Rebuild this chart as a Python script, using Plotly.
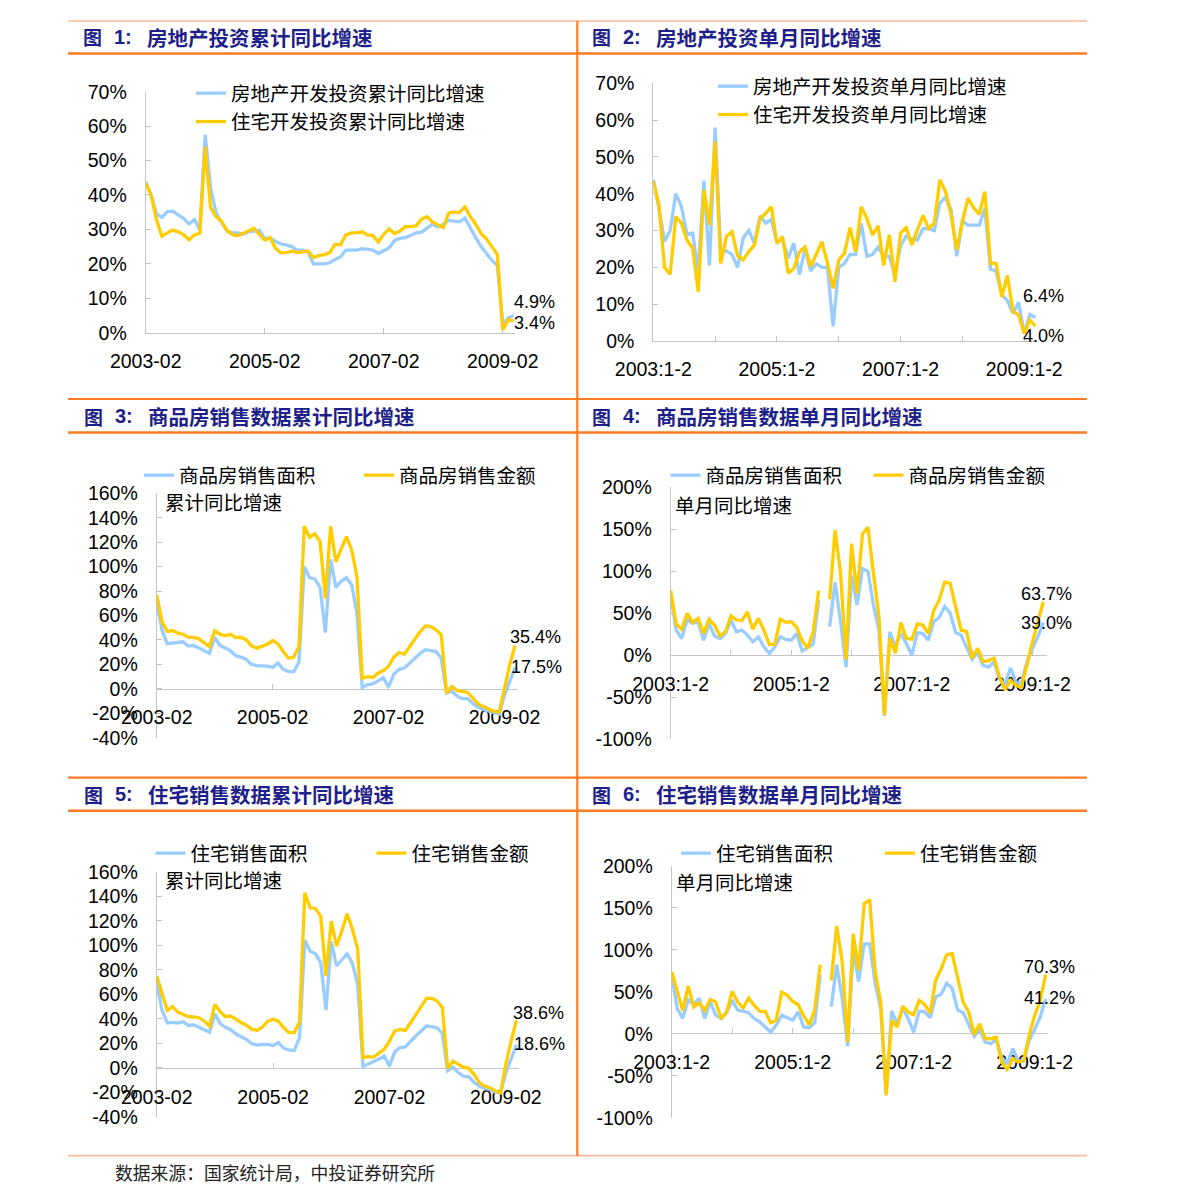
import plotly.graph_objects as go

W, H = 1191, 1202
CJK = "Noto Sans CJK SC"
NUM = "Liberation Sans, Arial, sans-serif"
BLUE = "#99CCFF"
YELLOW = "#FFCC00"
NAVY = "#1F1F8A"
ORANGE = "#FF7A22"
LIGHT_ORANGE = "#FFB896"
AXIS = "#C4C4C4"

# ---------------- categories & tick labels ----------------
years = range(2003, 2010)
cum_periods = [f"{y}-{m:02d}" for y in years for m in range(2, 13)][:69]
mon_periods = [f"{y}:1-2" if m == 2 else f"{y}:{m}" for y in years for m in range(2, 13)][:69]
cum_tickvals = ["2003-02", "2005-02", "2007-02", "2009-02"]
cum_ticktext = ["2003-02", "2005-02", "2007-02", "2009-02"]
mon_tickvals = ["2003:1-2", "2004:1-2", "2005:1-2", "2006:1-2", "2007:1-2", "2008:1-2", "2009:1-2"]
mon_ticktext = ["2003:1-2", "", "2005:1-2", "", "2007:1-2", "", "2009:1-2"]
y_ticks_invest = [0, 10, 20, 30, 40, 50, 60, 70]
y_ticks_cum = [-40, -20, 0, 20, 40, 60, 80, 100, 120, 140, 160]
y_ticks_mon = [-100, -50, 0, 50, 100, 150, 200]

# ---------------- 图1 房地产投资累计同比增速 ----------------
c1_invest = [43.8, 40, 34.5, 33.5, 35.2, 35.3, 34.2, 33.2, 31.6, 32.8, 30,
             57.5, 42, 35, 32, 29.5, 29, 29, 28.6, 29.3, 29.5, 29.8,
             27.3, 27.5, 26.5, 25.8, 25.5, 25, 24, 24, 23.5, 20, 20,
             20, 20.3, 21.3, 22, 24, 24, 24, 24.4, 24.1, 24, 23,
             23.7, 24.6, 26.8, 27.4, 27.6, 28.4, 29, 29.2, 30.5, 31.5, 30.7,
             31.5, 32.6, 32.4, 32.2, 33.3, 30.3, 27.6, 25, 23, 21, 19.5,
             2.5, 4.3, 4.9]
c1_resid = [43.4, 40, 32.7, 28, 29, 29.8, 29.3, 28.5, 27, 28.4, 28.9,
            54, 36.3, 33.7, 32.4, 29.8, 28.5, 28.2, 28.8, 29.5, 30.3, 28.6,
            26.9, 27.6, 24.5, 23.2, 23.3, 23.7, 23.3, 23.5, 23.7, 21.8, 22.4,
            22.7, 23.2, 25.7, 25.5, 28.4, 29, 29, 29.3, 28.4, 28.2, 26.4,
            28.6, 30.1, 28.8, 29.5, 30.8, 30.8, 31.1, 33, 33.7, 32.2, 31.3,
            30.5, 34.7, 35.1, 34.9, 36.6, 33.7, 31.5, 28.8, 27.2, 25, 22.7,
            0.8, 3.8, 3.4]

# ---------------- 图2 房地产投资单月同比增速 ----------------
c2_invest = [43.8, 36, 27, 30, 40, 36.5, 29, 29.3, 19, 43.5, 20.5,
             58, 24, 24.5, 23.5, 20, 28, 30, 26.5, 34, 32, 33,
             27, 27.5, 22.5, 26.5, 18, 25, 19, 21, 20, 20, 4,
             20, 21, 23.5, 23.5, 32, 23, 23.5, 25.5, 23, 23, 18,
             26, 28.5, 27.5, 27.5, 30.5, 30.5, 30, 37.5, 39, 35.5, 23,
             32.5, 31.5, 31.5, 31.5, 36, 19.5, 19, 12.5, 11, 7.5, 10.5,
             2, 7.2, 6.4]
c2_resid = [43.5, 37, 20, 18.1, 33.8, 32, 27.4, 25.2, 13.4, 41, 31.5,
            54.2, 21.1, 28.4, 29.7, 23.2, 22, 24.3, 26.1, 33.3, 34.7, 36.5,
            26.5, 28.4, 18.4, 19.7, 24.1, 25.6, 20.2, 23.4, 27, 21.1, 14.3,
            22, 23.8, 30.8, 24.3, 36.5, 33.3, 28.8, 31.3, 20.5, 28.8, 16.1,
            29.3, 30.8, 26.1, 30.2, 34.1, 30.6, 32, 43.8, 40.6, 34.2, 24.7,
            32.4, 38.8, 36.2, 34.4, 40.6, 21.1, 21.1, 12, 17.8, 8, 7.1,
            2.1, 5.7, 4.0]

# ---------------- 图3 商品房销售数据累计同比增速 ----------------
c3_area = [72, 48, 37, 37.5, 37.5, 38.5, 35, 35.5, 33.5, 31.5, 29,
           42, 35.5, 33.5, 31, 27, 26, 24, 20, 19, 19, 18.5,
           17.5, 21, 16, 14, 14, 22, 100, 91, 90, 83, 46,
           106, 83, 88, 91, 85, 62, 1, 3.5, 4, 6.5, 9,
           1.5, 12, 16, 17, 21, 25, 29, 32, 31.5, 30.5, 25,
           -3.5, -2, -6, -8, -8, -12, -15, -17, -18, -19, -20.5,
           -5, 6, 17.5]
c3_value = [76.9, 55, 46.9, 47.7, 45.5, 44.7, 42.3, 42, 40.9, 37.9, 34.6,
            47.5, 44.7, 43.4, 44.7, 42, 42, 40, 35.2, 33.3, 34.6, 36.5,
            39.5, 36.8, 30.5, 25, 25.9, 34.6, 133, 124, 126.8, 120.5, 74,
            133, 104, 113.7, 124.6, 113.7, 92, 8.7, 10, 9.3, 12.8, 15,
            18.3, 25.9, 29.7, 28.4, 34.6, 40, 46.9, 51.5, 51, 48.3, 44.2,
            -3.5, 1.9, -1.4, -2.2, -3, -7.6, -12.3, -14.5, -16.6, -18.5, -19,
            2, 20, 35.4]

# ---------------- 图4 商品房销售数据单月同比增速 ----------------
c4_area = [72, 30, 20, 42, 38, 40, 18, 38, 23, 20, 26,
           42, 28, 30, 24, 16, 22, 10, 2, 10, 22, 19,
           18, 26, 5, 9, 13, 66, None, 34, 87, 40, -14,
           95, 60, 103, 100, 60, 30, -72, 28, 10, 26, 14,
           0, 27, 26, 18, 40, 45, 58, 50, 27, 24, 10,
           -5, 3, -12, -14, -8, -28, -35, -15, -32, -33, -8,
           8, 22, 39.0]
c4_value = [77, 37.3, 31, 50, 38.9, 44, 26.2, 42.9, 36, 23, 28.2,
            46.8, 42, 41.3, 51.6, 31, 44, 30, 13, 13, 42.9, 39.3,
            40, 33.3, 17.5, 8.3, 27.4, 77, None, 66.7, 149, 97.6, -4.8,
            133, 73.8, 144.4, 152.4, 97.6, 46, -71, 20.2, 2.4, 38.9, 20.2,
            19, 37.3, 36, 26.2, 53.2, 65.9, 87, 85.7, 58.7, 30, 28.2,
            -3.6, 8.3, -7.5, -6.3, -3.6, -25.4, -41.3, -30, -36, -38, -10,
            15, 40, 63.7]

# ---------------- 图5 住宅销售数据累计同比增速 ----------------
c5_area = [70, 47, 36.5, 37, 36.5, 37.5, 34.5, 35, 33, 31, 29,
           44, 36, 33, 31, 27.5, 25, 23, 19.5, 18.5, 19, 19,
           18, 20.5, 16, 14.5, 14, 24.5, 104, 95, 93, 86, 47,
           103, 83, 88, 93, 85, 68, 1, 3, 4.5, 7, 9.5,
           1.5, 13, 16.5, 17, 22, 26, 30, 34, 33.5, 32.5, 28,
           -2.5, 0.5, -4, -7, -7.5, -12, -15, -17, -18, -20, -20.5,
           -4, 8, 18.6]
c5_value = [74.8, 60, 46.8, 49.8, 45.4, 43.5, 41.6, 41.4, 40.8, 38, 34,
            51.7, 45.7, 41.6, 42.2, 39.5, 36.7, 34.8, 31.3, 30.5, 33.2, 38,
            39.5, 38, 32.7, 28.6, 28.6, 37.5, 142.8, 130.6, 130, 123.8, 74.8,
            119.7, 99.3, 111.5, 125.7, 113, 96.6, 8.2, 9, 8.7, 12.2, 15,
            21.8, 30, 31.3, 30.5, 36.7, 43.5, 50.3, 56.6, 56.6, 54.4, 49,
            -0.5, 5.4, 2.7, 0.5, -0.5, -5.4, -12.2, -15, -16.3, -19, -20.4,
            2.7, 21.8, 38.6]

# ---------------- 图6 住宅销售数据单月同比增速 ----------------
c6_area = [70, 30, 18, 40, 35, 42, 18, 38, 22, 18, 25,
           40, 28, 26, 25, 18, 14, 8, 2, 10, 22, 19,
           16, 26, 8, 7, 13, 70, None, 32, 82, 42, -15,
           100, 62, 107, 107, 60, 30, -70, 27, 12, 30, 18,
           2, 27, 26, 19, 44, 47, 60, 54, 28, 25, 10,
           -3, 5, -10, -12, -7, -28, -36, -18, -32, -33, -8,
           5, 20, 41.2]
c6_value = [73.4, 49.6, 27.8, 56.7, 31.7, 36.9, 27.8, 40.9, 37.7, 17.9, 25.8,
            50.4, 37.7, 30.6, 42.5, 33.7, 26.6, 26.6, 13.1, 15.9, 49.6, 45.6,
            38.5, 34.5, 21, 10.7, 27.8, 82.1, None, 63.5, 128.2, 85.3, -9.9,
            119, 75.4, 154.8, 159.5, 73.4, 37.7, -73.4, 15.9, 7.9, 32.9, 25.8,
            22.6, 39.7, 34.5, 25, 63.5, 77.4, 94, 95.2, 65.5, 37.7, 25.8,
            -1.2, 11.9, -6, -6, -4, -33.7, -42.5, -29.8, -33.7, -31.7, -2,
            21.8, 39.7, 70.3]


def px_x(p):
    return p / W


def px_y(p):
    return 1 - p / H


charts = [
    dict(num="1", title="房地产投资累计同比增速", x=cum_periods, a=c1_invest, b=c1_resid,
         na="房地产开发投资累计同比增速", nb="住宅开发投资累计同比增速",
         tv=cum_tickvals, tt=cum_ticktext, x0=145.7, s=5.41, r=68.3,
         ytop=91.7, ybot=332.7, yr=[0, 70], yt=y_ticks_invest, zero=None, gap=False,
         tx=81, ty=37, sub=None,
         leg=dict(orientation="v", x=191, y=74, gap=0),
         la=(511.7, 302.3), lb=(511.7, 323.3)),
    dict(num="2", title="房地产投资单月同比增速", x=mon_periods, a=c2_invest, b=c2_resid,
         na="房地产开发投资单月同比增速", nb="住宅开发投资单月同比增速",
         tv=mon_tickvals, tt=mon_ticktext, x0=653.3, s=5.62, r=68.3,
         ytop=83.3, ybot=341, yr=[0, 70], yt=y_ticks_invest, zero=None, gap=False,
         tx=590, ty=37, sub=None,
         leg=dict(orientation="v", x=713, y=67, gap=3),
         la=(1021, 295.7), lb=(1021, 335.7)),
    dict(num="3", title="商品房销售数据累计同比增速", x=cum_periods, a=c3_area, b=c3_value,
         na="商品房销售面积", nb="商品房销售金额",
         tv=cum_tickvals, tt=cum_ticktext, x0=156.7, s=5.27, r=68.4,
         ytop=493.3, ybot=737.7, yr=[-40, 160], yt=y_ticks_cum, zero=689, gap=False,
         tx=81.7, ty=416, sub=("累计同比增速", 163.3, 501.7),
         leg=dict(orientation="h", x=139, y=456, ew=175),
         la=(509, 666.7), lb=(508.3, 637.3)),
    dict(num="4", title="商品房销售数据单月同比增速", x=mon_periods, a=c4_area, b=c4_value,
         na="商品房销售面积", nb="商品房销售金额",
         tv=mon_tickvals, tt=mon_ticktext, x0=670.7, s=5.48, r=68.6,
         ytop=487.3, ybot=739.3, yr=[-100, 200], yt=y_ticks_mon, zero=655.3, gap=True,
         tx=590, ty=416, sub=("单月同比增速", 673.3, 504),
         leg=dict(orientation="h", x=665.5, y=456, ew=158),
         la=(1019, 622.7), lb=(1019, 594)),
    dict(num="5", title="住宅销售数据累计同比增速", x=cum_periods, a=c5_area, b=c5_value,
         na="住宅销售面积", nb="住宅销售金额",
         tv=cum_tickvals, tt=cum_ticktext, x0=156.7, s=5.29, r=68.4,
         ytop=871.7, ybot=1116.7, yr=[-40, 160], yt=y_ticks_cum, zero=1068.3, gap=False,
         tx=81.7, ty=794, sub=("累计同比增速", 163.3, 879),
         leg=dict(orientation="h", x=150.5, y=834, ew=176),
         la=(511.7, 1044.3), lb=(510.7, 1012.7)),
    dict(num="6", title="住宅销售数据单月同比增速", x=mon_periods, a=c6_area, b=c6_value,
         na="住宅销售面积", nb="住宅销售金额",
         tv=mon_tickvals, tt=mon_ticktext, x0=671.7, s=5.5, r=68.4,
         ytop=865.7, ybot=1117.7, yr=[-100, 200], yt=y_ticks_mon, zero=1033.3, gap=True,
         tx=590, ty=794, sub=("单月同比增速", 674, 881.7),
         leg=dict(orientation="h", x=676, y=834, ew=159),
         la=(1021.7, 998.3), lb=(1021.7, 966.7)),
]

fig = go.Figure()
annotations = []
shapes = []
layout = dict(
    template="none",
    width=W, height=H, margin=dict(l=0, r=0, t=0, b=0, pad=0, autoexpand=False),
    paper_bgcolor="white", plot_bgcolor="white",
    font=dict(family=NUM, size=19, color="black"),
    showlegend=True,
)

tickfont = dict(family=NUM, size=19.5, color="black")

for i, c in enumerate(charts, start=1):
    xa = "x" if i == 1 else f"x{i}"
    ya = "y" if i == 1 else f"y{i}"
    lg = "legend" if i == 1 else f"legend{i}"
    for name, vals, col, grp in [(c["na"], c["a"], BLUE, "a"), (c["nb"], c["b"], YELLOW, "b")]:
        fig.add_trace(go.Scatter(
            x=c["x"], y=vals, name=name, mode="lines",
            line=dict(color=col, width=3.3),
            connectgaps=not c["gap"],
            xaxis=xa, yaxis=ya, legend=lg, legendgroup=f"g{i}{grp}",
            hoverinfo="skip",
        ))
    xdom = [px_x(c["x0"]), px_x(c["x0"] + c["s"] * c["r"])]
    ydom = [px_y(c["ybot"]), px_y(c["ytop"])]
    xkey = "xaxis" if i == 1 else f"xaxis{i}"
    ykey = "yaxis" if i == 1 else f"yaxis{i}"
    xax = dict(
        domain=xdom, type="category", range=[0, c["r"]],
        categoryorder="array", categoryarray=c["x"],
        tickmode="array", tickvals=c["tv"], ticktext=c["tt"],
        showline=True, linecolor=AXIS, linewidth=1,
        ticks="inside", ticklen=5, tickcolor=AXIS, tickwidth=1,
        showgrid=False, zeroline=False, tickfont=tickfont, automargin=False,
        layer="below traces", ticklabelstandoff=11, fixedrange=True,
    )
    if c["zero"] is None:
        xax["anchor"] = ya
    else:
        xax["anchor"] = "free"
        xax["position"] = px_y(c["zero"])
    layout[xkey] = xax
    layout[ykey] = dict(
        domain=ydom, anchor=xa, range=c["yr"],
        tickmode="array", tickvals=c["yt"], ticktext=[f"{v}%" for v in c["yt"]],
        showline=True, linecolor=AXIS, linewidth=1,
        ticks="inside", ticklen=5, tickcolor=AXIS, tickwidth=1,
        showgrid=False, zeroline=False, tickfont=tickfont, automargin=False,
        layer="below traces", ticklabelstandoff=14, fixedrange=True,
    )
    L = c["leg"]
    legd = dict(
        x=px_x(L["x"]), y=px_y(L["y"]), xanchor="left", yanchor="top",
        orientation=L["orientation"], bgcolor="rgba(0,0,0,0)", borderwidth=0,
        font=dict(family=CJK, size=19.5, color="black"), traceorder="normal",
        itemclick=False, itemdoubleclick=False,
    )
    if L["orientation"] == "v":
        legd["tracegroupgap"] = L["gap"]
    else:
        legd["entrywidth"] = L["ew"]
        legd["entrywidthmode"] = "pixels"
        legd["tracegroupgap"] = 0
    layout[lg] = legd

    # panel title
    annotations.append(dict(xref="paper", yref="paper", x=px_x(c["tx"]), y=px_y(c["ty"]),
                            xanchor="left", yanchor="middle", showarrow=False, text="<b>图</b>",
                            font=dict(family=CJK, size=19, color=NAVY)))
    annotations.append(dict(xref="paper", yref="paper", x=px_x(c["tx"] + 31), y=px_y(c["ty"]),
                            xanchor="left", yanchor="middle", showarrow=False, text=f"<b>{c['num']}:</b>",
                            font=dict(family=NUM, size=20, color=NAVY)))
    annotations.append(dict(xref="paper", yref="paper", x=px_x(c["tx"] + 64), y=px_y(c["ty"]),
                            xanchor="left", yanchor="middle", showarrow=False, text=f"<b>{c['title']}</b>",
                            font=dict(family=CJK, size=20.5, color=NAVY)))
    if c["sub"]:
        t, sx, sy = c["sub"]
        annotations.append(dict(xref="paper", yref="paper", x=px_x(sx), y=px_y(sy),
                                xanchor="left", yanchor="middle", showarrow=False, text=t,
                                font=dict(family=CJK, size=19.5, color="black")))
    # end-value labels
    for (lx, ly), vals in [(c["la"], c["a"]), (c["lb"], c["b"])]:
        annotations.append(dict(xref="paper", yref="paper", x=px_x(lx), y=px_y(ly),
                                xanchor="left", yanchor="middle", showarrow=False,
                                text=f"{vals[-1]:.1f}%",
                                font=dict(family=NUM, size=18, color="black")))

# source note
annotations.append(dict(xref="paper", yref="paper", x=px_x(113), y=px_y(1171.7),
                        xanchor="left", yanchor="middle", showarrow=False,
                        text="数据来源：国家统计局，中投证券研究所",
                        font=dict(family=CJK, size=17.8, color="#222222")))


def hline(y, color, width, x0=68, x1=1087):
    shapes.append(dict(type="line", xref="paper", yref="paper", x0=px_x(x0), x1=px_x(x1),
                       y0=px_y(y), y1=px_y(y), line=dict(color=color, width=width)))


hline(21, LIGHT_ORANGE, 1.5)
hline(53.5, ORANGE, 2.5)
hline(399, ORANGE, 2.2)
hline(432.5, ORANGE, 2.5)
hline(777.7, ORANGE, 2.2)
hline(810.7, ORANGE, 2.5)
hline(1155.7, LIGHT_ORANGE, 1.8)
shapes.append(dict(type="line", xref="paper", yref="paper", x0=px_x(577.3), x1=px_x(577.3),
                   y0=px_y(21), y1=px_y(1155.7), line=dict(color=ORANGE, width=2.2)))

layout["annotations"] = annotations
layout["shapes"] = shapes
fig.update_layout(**layout)
fig.write_html("out.html")
